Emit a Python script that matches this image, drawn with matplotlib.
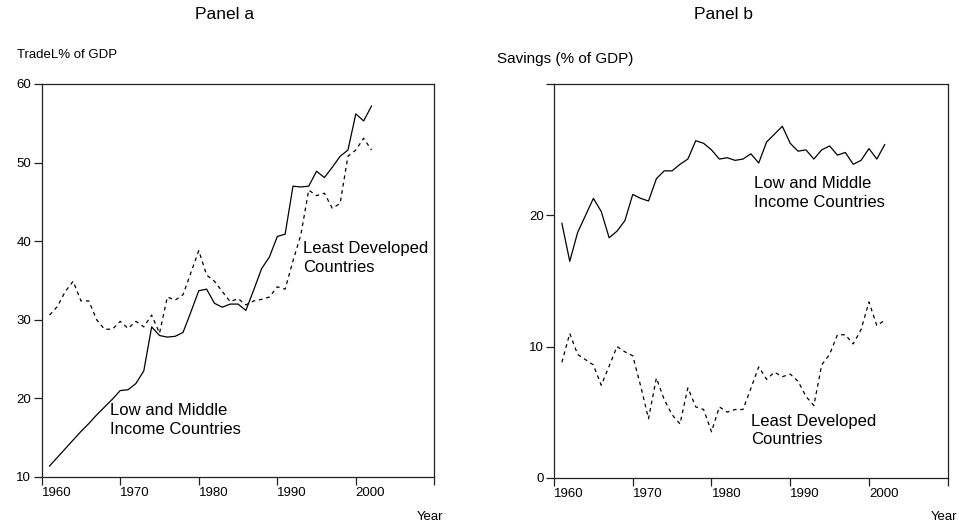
import matplotlib
matplotlib.use("Agg")
import matplotlib.pyplot as plt
import numpy as np

plt.rcParams['font.family'] = ['Liberation Sans', 'DejaVu Sans']

# years shared by both panels
years = np.arange(1961, 2003)

# panel a: trade, % of GDP
trade_lmi = [11.4, 12.5, 13.6, 14.7, 15.8, 16.8, 17.9, 18.9, 19.9, 21.0,
             21.1, 21.9, 23.5, 29.1, 28.0, 27.8, 27.9, 28.4, 31.0, 33.7,
             33.9, 32.1, 31.6, 32.0, 32.0, 31.2, 33.8, 36.5, 38.0, 40.6,
             40.9, 47.0, 46.9, 47.0, 48.9, 48.1, 49.4, 50.8, 51.6, 56.2,
             55.3, 57.2]
trade_ldc = [30.6, 31.7, 33.6, 34.9, 32.4, 32.4, 30.0, 28.8, 28.8, 29.8,
             28.9, 29.8, 29.1, 30.6, 28.3, 32.9, 32.5, 33.2, 36.0, 38.8,
             35.7, 34.9, 33.6, 32.3, 32.7, 31.9, 32.4, 32.6, 32.9, 34.2,
             33.9, 37.5, 40.8, 46.5, 45.8, 46.1, 44.2, 44.8, 50.8, 51.6,
             53.1, 51.6]

# panel b: savings, % of GDP
sav_lmi = [19.4, 16.5, 18.7, 20.0, 21.3, 20.3, 18.3, 18.8, 19.6, 21.6,
           21.3, 21.1, 22.8, 23.4, 23.4, 23.9, 24.3, 25.7, 25.5, 25.0,
           24.3, 24.4, 24.2, 24.3, 24.7, 24.0, 25.6, 26.2, 26.8, 25.5,
           24.9, 25.0, 24.3, 25.0, 25.3, 24.6, 24.8, 23.9, 24.2, 25.1,
           24.3, 25.4]
sav_ldc = [8.8, 11.0, 9.4, 9.0, 8.6, 7.05, 8.5, 10.0, 9.6, 9.3,
           7.0, 4.5, 7.6, 5.95, 4.8, 4.1, 6.85, 5.4, 5.2, 3.5,
           5.4, 5.0, 5.2, 5.2, 6.8, 8.45, 7.5, 8.05, 7.7, 7.9,
           7.35, 6.2, 5.5, 8.6, 9.4, 10.9, 10.9, 10.2, 11.3, 13.4,
           11.6, 12.0]

xticks = [1960, 1970, 1980, 1990, 2000, 2010]
xticklabels = ['1960', '1970', '1980', '1990', '2000', '']

fig = plt.figure(figsize=(9.59, 5.24), dpi=100)
axa = fig.add_axes([0.0435, 0.0897, 0.4094, 0.75])
axb = fig.add_axes([0.5777, 0.0884, 0.4105, 0.7507])

dash = (0, (3, 3))

def style(ax):
    for s in ax.spines.values():
        s.set_linewidth(0.9)
        s.set_color('#222222')
    ax.tick_params(direction='out', length=5.5, width=0.9, color='#222222',
                   labelsize=9.5, pad=2)
    ax.set_xlim(1960, 2010)
    ax.set_xticks(xticks)
    ax.set_xticklabels(xticklabels, ha='left')

# panel a
axa.plot(years, trade_lmi, color='black', lw=0.9)
axa.plot(years, trade_ldc, color='black', lw=0.9, linestyle=dash)
style(axa)
axa.set_ylim(10, 60)
axa.set_yticks([10, 20, 30, 40, 50, 60])
axa.text(1968.7, 19.4, 'Low and Middle\nIncome Countries', fontsize=12,
         va='top', ha='left', linespacing=1.35)
axa.text(1993.3, 40.0, 'Least Developed\nCountries', fontsize=12,
         va='top', ha='left', linespacing=1.35)

# panel b
axb.plot(years, sav_lmi, color='black', lw=0.9)
axb.plot(years, sav_ldc, color='black', lw=0.9, linestyle=dash)
style(axb)
axb.set_ylim(0, 30)
axb.set_yticks([0, 10, 20, 30])
axb.set_yticklabels(['0', '10', '20', ''])
axb.text(1985.4, 23.0, 'Low and Middle\nIncome Countries', fontsize=12,
         va='top', ha='left', linespacing=1.35)
axb.text(1985.0, 4.85, 'Least Developed\nCountries', fontsize=12,
         va='top', ha='left', linespacing=1.25)

# titles and axis captions
fig.text(224.5 / 959, 1 - 14.5 / 524, 'Panel a', fontsize=12.5, ha='center', va='center')
fig.text(723 / 959, 1 - 14.5 / 524, 'Panel b', fontsize=12.5, ha='center', va='center')
fig.text(17 / 959, 1 - 55 / 524, 'TradeL% of GDP', fontsize=9.5, ha='left', va='center')
fig.text(497 / 959, 1 - 59 / 524, 'Savings (% of GDP)', fontsize=11, ha='left', va='center')
fig.text(443 / 959, 1 - 516.5 / 524, 'Year', fontsize=9.5, ha='right', va='center')
fig.text(957 / 959, 1 - 516.5 / 524, 'Year', fontsize=9.5, ha='right', va='center')

fig.savefig('out.png', dpi=100)
